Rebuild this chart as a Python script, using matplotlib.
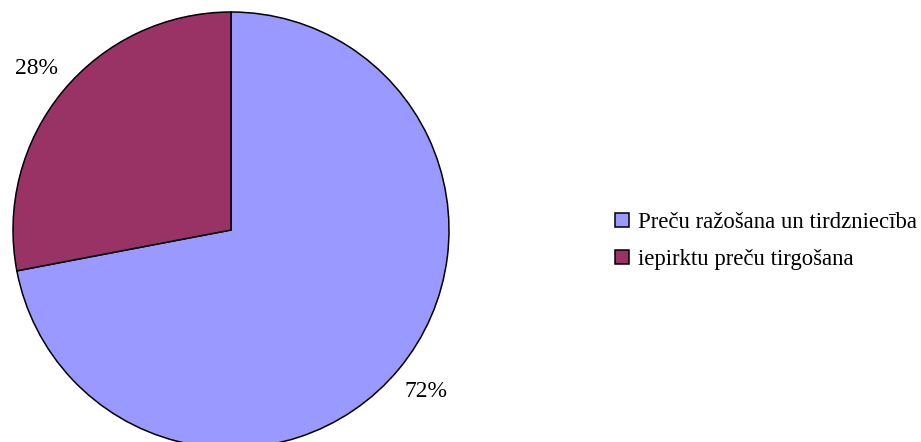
import matplotlib
matplotlib.use("Agg")
import matplotlib.pyplot as plt

# data
labels = ["Preču ražošana un tirdzniecība", "iepirktu preču tirgošana"]
shares = [72, 28]
colors = ["#9999FF", "#993366"]

W, H = 921, 442
plt.rcParams["font.family"] = ["Liberation Serif", "DejaVu Serif"]

fig = plt.figure(figsize=(W / 100, H / 100), dpi=100)

# pie centre (231, 230) px, radius 218 px
cx, cy, r = 231, 230, 218
ax = fig.add_axes([(cx - r) / W, (H - cy - r) / H, 2 * r / W, 2 * r / H])

wedges, texts, autotexts = ax.pie(
    shares,
    colors=colors,
    startangle=90,
    counterclock=False,
    autopct="%1.0f%%",
    pctdistance=1.16,
    wedgeprops=dict(edgecolor="black", linewidth=1.1),
    textprops=dict(fontsize=17, color="black"),
)
ax.set_xlim(-1, 1)
ax.set_ylim(-1, 1)
ax.axis("off")

fs = 16.4
fig.legend(
    wedges, labels,
    loc="center left",
    bbox_to_anchor=(615 / W, 1 - 241 / H),
    frameon=False,
    fontsize=fs,
    handlelength=0.6,
    handleheight=0.6,
    handletextpad=0.4,
    labelspacing=0.72,
    borderpad=0,
    borderaxespad=0,
)

fig.savefig("out.png", dpi=100)
